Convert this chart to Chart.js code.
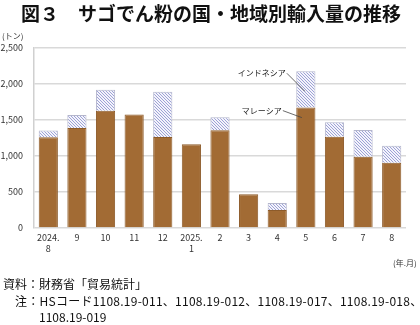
<!DOCTYPE html>
<html><head><meta charset="utf-8">
<script src="https://cdn.jsdelivr.net/npm/chart.js@4"></script>
<style>
html,body{margin:0;padding:0;background:#fff;}
#wrap{position:relative;width:420px;height:325px;overflow:hidden;font-family:"Noto Sans CJK JP","Noto Sans",sans-serif;color:#222;}
#c{position:absolute;left:0;top:0;}
.t{position:absolute;white-space:nowrap;line-height:1;}
</style></head><body>
<div id="wrap">
<canvas id="c" width="420" height="325"></canvas>
<div class="t" style="left:21px;top:3px;font-size:19px;font-weight:bold;color:#111;">図３　サゴでん粉の国・地域別輸入量の推移</div>
<div class="t" style="left:2px;top:32px;font-size:8px;color:#333;">(トン)</div>
<div class="t" style="left:393px;top:259px;font-size:8px;color:#333;">(年.月)</div>
<div class="t" style="left:3px;top:278px;font-size:12px;color:#111;">資料：財務省「貿易統計」</div>
<div class="t" style="left:15px;top:295px;font-size:12px;letter-spacing:0.25px;color:#111;">注：HSコード1108.19-011、1108.19-012、1108.19-017、1108.19-018、</div>
<div class="t" style="left:39px;top:311px;font-size:12px;color:#111;">1108.19-019</div>
</div>
<script>
const categories = [['2024.','8'],'9','10','11','12',['2025.','1'],'2','3','4','5','6','7','8'];
const malaysia = [1260, 1389, 1630, 1575, 1264, 1162, 1357, 470, 251, 1672, 1268, 990, 906];
const indonesia = [95, 180, 290, 0, 630, 0, 180, 0, 97, 505, 200, 370, 235];
const seriesNames = ['マレーシア', 'インドネシア'];
const yTicks = [0, 500, 1000, 1500, 2000, 2500];
const labelIndex = 9;

function hatch(){
  const p = document.createElement('canvas');
  p.width = 3; p.height = 3;
  const g = p.getContext('2d');
  g.fillStyle = '#f4f4fb'; g.fillRect(0,0,3,3);
  g.fillStyle = '#9da2d6';
  for (let i=0;i<3;i++){ g.fillRect(i,i,1,1); }
  return g.createPattern(p,'repeat');
}

const annot = {
  id:'annot',
  afterDatasetsDraw(chart){
    const ctx = chart.ctx;
    const mBar = chart.getDatasetMeta(0).data[labelIndex];
    const iBar = chart.getDatasetMeta(1).data[labelIndex];
    ctx.save();
    ctx.font = '8px "Noto Sans CJK JP"';
    ctx.fillStyle = '#222';
    ctx.textAlign = 'right';
    ctx.textBaseline = 'middle';
    ctx.strokeStyle = '#444';
    ctx.lineWidth = 0.8;
    const iy = iBar.y + 2;
    const ix = mBar.x - 20;
    ctx.fillText(seriesNames[1], ix, iy);
    ctx.beginPath(); ctx.moveTo(ix+1, iy); ctx.lineTo(iBar.x - 1, iBar.y + (iBar.base - iBar.y)*0.55); ctx.stroke();
    const my = mBar.y + 3;
    const mx = mBar.x - 24;
    ctx.fillText(seriesNames[0], mx, my);
    ctx.beginPath(); ctx.moveTo(mx+1, my); ctx.lineTo(mBar.x - 4, mBar.y + 10); ctx.stroke();
    ctx.restore();
  }
};

new Chart(document.getElementById('c'), {
  type:'bar',
  data:{
    labels: categories,
    datasets:[
      {label:seriesNames[0], data:malaysia, backgroundColor:'#a26b34', borderColor:'#8d5b2a', borderWidth:1, barPercentage:0.67, categoryPercentage:1},
      {label:seriesNames[1], data:indonesia, backgroundColor:hatch(), borderColor:'#b4b6cc', borderWidth:1, barPercentage:0.67, categoryPercentage:1}
    ]
  },
  options:{
    responsive:false, animation:false, devicePixelRatio:1,
    layout:{padding:{left:0, top:48, right:14, bottom:67}},
    plugins:{legend:{display:false}, tooltip:{enabled:false}},
    scales:{
      x:{stacked:true,
         grid:{display:false, drawTicks:false},
         border:{display:false},
         ticks:{font:{size:9, family:'"Noto Sans CJK JP"'}, color:'#333', padding:4, maxRotation:0, autoSkip:false},
         afterFit(a){ a.height = 30; }
      },
      y:{stacked:true, min:0, max:2500,
         afterBuildTicks(a){ a.ticks = yTicks.map(v=>({value:v})); },
         grid:{color:'#d9d9d9', lineWidth:1.5, drawTicks:false},
         border:{display:true, color:'#d0d0d0', width:1.5},
         ticks:{font:{size:9, family:'"Noto Sans CJK JP"'}, color:'#333', padding:11,
                callback:v=>v.toLocaleString('en-US')},
         afterFit(a){ a.width = 34; }
      }
    }
  },
  plugins:[annot]
});
</script>
</body></html>
